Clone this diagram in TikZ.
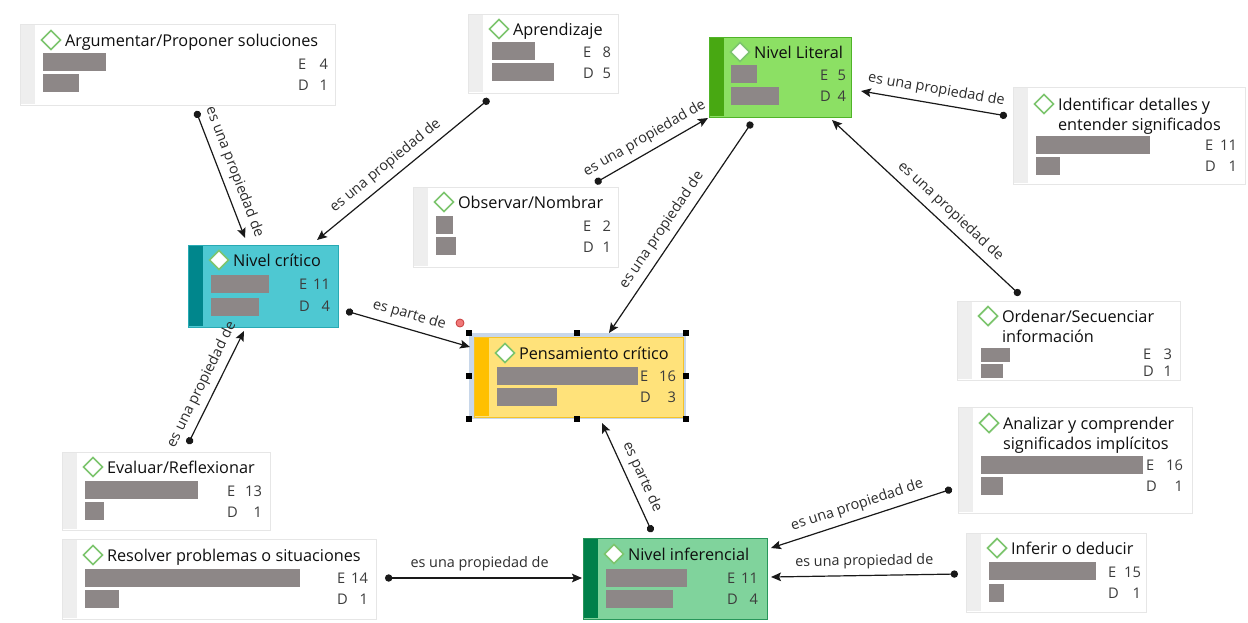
\documentclass[tikz,border=0pt]{standalone}
\usepackage{fontspec}
\setmainfont{Open Sans}
\usetikzlibrary{arrows.meta,calc,fit}
\definecolor{barc}{RGB}{141,135,135}
\definecolor{stripg}{RGB}{238,238,238}
\definecolor{boxb}{RGB}{230,230,230}
\definecolor{diac}{RGB}{125,197,110}
\definecolor{litf}{RGB}{140,224,100}
\definecolor{lits}{RGB}{72,168,18}
\definecolor{litb}{RGB}{80,180,40}
\definecolor{critf}{RGB}{78,200,210}
\definecolor{crits}{RGB}{0,134,140}
\definecolor{critb}{RGB}{40,170,180}
\definecolor{penf}{RGB}{255,226,122}
\definecolor{pens}{RGB}{255,192,0}
\definecolor{penb}{RGB}{245,195,40}
\definecolor{selc}{RGB}{200,215,234}
\definecolor{inff}{RGB}{128,211,156}
\definecolor{infs}{RGB}{0,128,74}
\definecolor{infb}{RGB}{40,150,90}
\definecolor{txtc}{RGB}{15,15,15}
\definecolor{numc}{RGB}{60,60,60}
\definecolor{lnkc}{RGB}{25,25,25}
\definecolor{lblc}{RGB}{45,45,45}
\definecolor{redf}{RGB}{240,120,120}
\definecolor{redb}{RGB}{200,60,60}
\newcommand{\ttlfont}{\fontsize{12.2pt}{14pt}\selectfont}
\newcommand{\numfont}{\fontsize{11pt}{13pt}\selectfont}
\newcommand{\lblfont}{\fontsize{10.8pt}{13pt}\selectfont}
\tikzset{
  every node/.style={inner sep=0pt, outer sep=0pt},
  wbox/.style={draw=boxb, fill=white, line width=0.75pt},
  litbox/.style={draw=litb, fill=litf, line width=0.75pt},
  critbox/.style={draw=critb, fill=critf, line width=0.75pt},
  penbox/.style={draw=penb, fill=penf, line width=0.75pt},
  infbox/.style={draw=infb, fill=inff, line width=0.75pt},
  bar/.style={fill=barc},
  diam/.style={draw=diac, fill=white, line width=1.3pt, line join=miter},
  ttl/.style={font=\ttlfont, text=txtc, anchor=base west},
  num/.style={font=\numfont, text=numc},
  lnk/.style={draw=lnkc, line width=0.9pt, {Circle[length=5.5pt]}-{Stealth[length=7.5pt,width=6.5pt,inset=1.5pt]}},
  lbl/.style={font=\lblfont, text=lblc, sloped, inner sep=2pt, above=3pt},
  handle/.style={fill=black},
}
\newcommand{\Cbox}[7]{%
  \node[#6, fit={(#2,#3) (#4,#5)}] (#1) {};
  \fill[#7] ($(#1.north west)+(0.6,0.6)$) rectangle ($(#1.south west)+(15,-0.6)$);}
\newcommand{\Dia}[2]{\draw[diam] (#1-9.5,#2) -- (#1,#2-9.5) -- (#1+9.5,#2) -- (#1,#2+9.5) -- cycle;}
\newcommand{\Head}[4]{\Dia{#2+31}{#3}\node[ttl] (#1-t) at (#2+45,#3+6) {#4};}
\newcommand{\Bars}[6]{%
  \fill[bar] (#1,#2) rectangle ++(#3,#6);
  \fill[bar] (#1,#4) rectangle ++(#5,#6);}
\newcommand{\Nums}[7]{%
  \node[num, anchor=base west] (#1-e) at (#2,#4+5) {E};
  \node[num, anchor=base east] (#1-en) at (#3,#4+5) {#6};
  \node[num, anchor=base west] (#1-d) at (#2,#5+5) {D};
  \node[num, anchor=base east] (#1-dn) at (#3,#5+5) {#7};}
\begin{document}
\begin{tikzpicture}[x=0.75pt, y=-0.75pt]
\useasboundingbox (0,0) rectangle (1248,622);
\fill[white] (0,0) rectangle (1248,622);
% Argumentar
\Cbox{arg}{20}{24}{335}{105}{wbox}{stripg}
\Head{arg}{20}{40}{Argumentar/Proponer soluciones}
\Bars{43}{53}{63}{74}{36}{18}
\Nums{arg}{298}{328}{64}{85}{4}{1}
% Aprendizaje
\Cbox{apr}{468}{14}{618}{93}{wbox}{stripg}
\Head{apr}{468}{29}{Aprendizaje}
\Bars{492}{42}{43}{63}{62}{18}
\Nums{apr}{583}{611}{52}{73}{8}{5}
% Observar
\Cbox{obs}{413}{187}{618}{267}{wbox}{stripg}
\Head{obs}{413}{202}{Observar/Nombrar}
\Bars{436}{216}{17}{237}{20}{18}
\Nums{obs}{583}{611}{226}{247}{2}{1}
% Nivel Literal
\Cbox{lit}{709}{37}{851}{117}{litbox}{lits}
\Head{lit}{709}{52}{Nivel Literal}
\Bars{731}{65}{26}{87}{48}{18}
\Nums{lit}{820}{846}{75}{96}{5}{4}
% Identificar
\Cbox{ide}{1013}{87}{1245}{184}{wbox}{stripg}
\Head{ide}{1013}{104}{Identificar detalles y}
\node[ttl] (ide-t2) at (1058,130) {entender significados};
\Bars{1036}{136}{114}{157}{24}{18}
\Nums{ide}{1205}{1237}{145}{166}{11}{1}
% Nivel critico
\Cbox{crit}{188}{245}{338}{327}{critbox}{crits}
\Head{crit}{188}{260}{Nivel crítico}
\Bars{211}{275}{58}{298}{48}{18}
\Nums{crit}{299}{330}{284}{306}{11}{4}
% Pensamiento critico (selected)
\fill[selc] (469,333) rectangle (686,419);
\Cbox{pen}{474}{337}{683}{417}{penbox}{pens}
\Head{pen}{474}{353}{Pensamiento crítico}
\Bars{497}{367}{141}{388}{60}{18}
\Nums{pen}{640}{676}{376}{397}{16}{3}
\foreach \hx/\hy in {469/333,577/333,686/333,469/376,686/376,469/419,577/419,686/419}
  \fill[handle] (\hx-3,\hy-3) rectangle (\hx+3,\hy+3);
% Ordenar
\Cbox{ord}{957}{301}{1180}{380}{wbox}{stripg}
\Head{ord}{957}{316}{Ordenar/Secuenciar}
\node[ttl] (ord-t2) at (1002,342) {información};
\Bars{981}{348}{29}{364}{22}{14}
\Nums{ord}{1143}{1172}{354}{371}{3}{1}
% Analizar
\Cbox{ana}{958}{407}{1192}{513}{wbox}{stripg}
\Head{ana}{958}{423}{Analizar y comprender}
\node[ttl] (ana-t2) at (1003,449) {significados implícitos};
\Bars{981}{456}{162}{477}{22}{18}
\Nums{ana}{1146}{1183}{465}{486}{16}{1}
% Inferir
\Cbox{inf}{966}{533}{1146}{612}{wbox}{stripg}
\Head{inf}{966}{548}{Inferir o deducir}
\Bars{989}{562}{107}{584}{15}{18}
\Nums{inf}{1108}{1141}{572}{593}{15}{1}
% Evaluar
\Cbox{eva}{62}{452}{270}{530}{wbox}{stripg}
\Head{eva}{62}{467}{Evaluar/Reflexionar}
\Bars{85}{481}{113}{502}{19}{18}
\Nums{eva}{227}{262}{491}{512}{13}{1}
% Resolver
\Cbox{res}{62}{539}{376}{619}{wbox}{stripg}
\Head{res}{62}{555}{Resolver problemas o situaciones}
\Bars{85}{569}{215}{590}{34}{18}
\Nums{res}{337}{368}{578}{599}{14}{1}
% Nivel inferencial
\Cbox{ninf}{583}{538}{767}{619}{infbox}{infs}
\Head{ninf}{583}{554}{Nivel inferencial}
\Bars{606}{569}{81}{590}{67}{18}
\Nums{ninf}{727}{758}{578}{599}{11}{4}
% connectors
\draw[lnk] ($(arg.south west)+(176,6)$) -- node[lbl, pos=0.52] (l1) {es una propiedad de} ($(crit.north west)+(57,-7)$);
\draw[lnk] ($(apr.south west)+(21,6)$) -- node[lbl, pos=0.55] (l2) {es una propiedad de} ($(crit.north west)+(129,-5)$);
\draw[lnk] ($(obs.north west)+(182,-4)$) -- node[lbl, pos=0.5] (l3) {es una propiedad de} ($(lit.south west)+(-1,1)$);
\draw[lnk] ($(ide.north west)+(-6,29)$) -- node[lbl, pos=0.5] (l4) {es una propiedad de} ($(lit.north east)+(10,54)$);
\draw[lnk] ($(ord.north west)+(63,-6)$) -- node[lbl, pos=0.42] (l5) {es una propiedad de} ($(lit.south east)+(-19,3)$);
\draw[lnk] ($(lit.south west)+(43,5)$) -- node[lbl, pos=0.55] (l6) {es una propiedad de} ($(pen.north west)+(135,-4)$);
\draw[lnk] ($(crit.south east)+(8,-16)$) -- node[lbl, pos=0.48] (l7) {es parte de} ($(pen.north west)+(-4,10)$);
\draw[lnk] ($(eva.north west)+(126,-8)$) -- node[lbl, pos=0.47] (l8) {es una propiedad de} ($(crit.south west)+(56,4)$);
\draw[lnk] ($(ninf.north west)+(69,-6)$) -- node[lbl, pos=0.45] (l9) {es parte de} ($(pen.south west)+(128,6)$);
\draw[lnk] ($(ana.south west)+(-6,-24)$) -- node[lbl, pos=0.5] (l10) {es una propiedad de} ($(ninf.north east)+(4,10)$);
\draw[lnk] ($(inf.north west)+(-8,41)$) -- node[lbl, pos=0.5] (l11) {es una propiedad de} ($(ninf.north east)+(4,39)$);
\draw[lnk] ($(res.north east)+(9,39)$) -- node[lbl, pos=0.48] (l12) {es una propiedad de} ($(ninf.north west)+(-1,40)$);
% red handle
\draw[fill=redf, draw=redb, line width=0.6pt] (460,323) circle (3pt);
\end{tikzpicture}
\end{document}
